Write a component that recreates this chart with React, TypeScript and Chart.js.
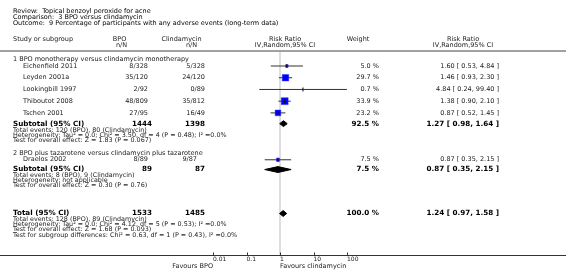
import React, { useEffect, useRef } from 'react';
import { Chart, registerables } from 'chart.js';

Chart.register(...registerables);

// ---------------- DATA ----------------
const titleLines = [
  'Review:  Topical benzoyl peroxide for acne',
  'Comparison:  3 BPO versus clindamycin',
  'Outcome:  9 Percentage of participants with any adverse events (long-term data)',
];

const groupHeadings = [
  '1 BPO monotherapy versus clindamycin monotherapy',
  '2 BPO plus tazarotene versus clindamycin plus tazarotene',
];

const studyNames = ['Eichenfield 2011', 'Leyden 2001a', 'Lookingbill 1997', 'Thiboutot 2008', 'Tschen 2001', 'Draelos 2002'];
const bpoEvents = [8, 35, 2, 48, 27, 8];
const bpoTotal = [328, 120, 92, 809, 95, 89];
const clinEvents = [5, 24, 0, 35, 16, 9];
const clinTotal = [328, 120, 89, 812, 49, 87];
const studyWeight = [5.0, 29.7, 0.7, 33.9, 23.2, 7.5];
const studyRR = [1.60, 1.46, 4.84, 1.38, 0.87, 0.87];
const studyLow = [0.53, 0.93, 0.24, 0.90, 0.52, 0.35];
const studyHigh = [4.84, 2.30, 99.40, 2.10, 1.45, 2.15];

const pooledLabels = ['Subtotal (95% CI)', 'Subtotal (95% CI)', 'Total (95% CI)'];
const pooledBpoN = [1444, 89, 1533];
const pooledClinN = [1398, 87, 1485];
const pooledWeight = [92.5, 7.5, 100.0];
const pooledRR = [1.27, 0.87, 1.24];
const pooledLow = [0.98, 0.35, 0.97];
const pooledHigh = [1.64, 2.15, 1.58];

const footnotes1 = [
  'Total events: 120 (BPO), 80 (Clindamycin)',
  'Heterogeneity: Tau\u00B2 = 0.0; Chi\u00B2 = 3.50, df = 4 (P = 0.48); I\u00B2 =0.0%',
  'Test for overall effect: Z = 1.83 (P = 0.067)',
];
const footnotes2 = [
  'Total events: 8 (BPO), 9 (Clindamycin)',
  'Heterogeneity: not applicable',
  'Test for overall effect: Z = 0.30 (P = 0.76)',
];
const footnotesTotal = [
  'Total events: 128 (BPO), 89 (Clindamycin)',
  'Heterogeneity: Tau\u00B2 = 0.0; Chi\u00B2 = 4.12, df = 5 (P = 0.53); I\u00B2 =0.0%',
  'Test for overall effect: Z = 1.68 (P = 0.093)',
  'Test for subgroup differences: Chi\u00B2 = 0.63, df = 1 (P = 0.43), I\u00B2 =0.0%',
];

const xTickValues = [0.01, 0.1, 1, 10, 100];
const favoursLeft = 'Favours BPO';
const favoursRight = 'Favours clindamycin';

// ---------------- LAYOUT (y in the plot's row scale, x in px) ----------------
const TITLE_Y = [5.5, 11.5, 17.5];
const HEAD_Y = [34, 40];
const RULE_Y = 46;
const GROUP_Y = [55, 151];
const STUDY_Y = [61.5, 73.5, 85.5, 97.5, 109.5, 157.5];
const POOLED_Y = [120.5, 167.5, 212.5];
const FOOT1_Y = [127, 132.5, 138];
const FOOT2_Y = [173.5, 178.8, 184.1];
const FOOTT_Y = [218.5, 223.8, 229.1, 234.4];
const AXIS_Y = 255;
const FAVOURS_Y = 266.5;
const DIAMOND_HALF = 3;
const TICK_UP = 3;

const X_LEFT = 13;
const X_STUDY = 23;
const X_BPO = 148;
const X_BPO_BOLD = 152;
const X_CLIN = 205;
const X_WEIGHT = 379;
const X_EFFECT = 499;

const FONT = '"DejaVu Sans", sans-serif';
const F_TEXT = `6.5px ${FONT}`;
const F_FOOT = `6.4px ${FONT}`;
const F_BOLD = `bold 7.2px ${FONT}`;
const TEXT_COLOR = '#222';

const fmtCI = (e: number, l: number, h: number) => `${e.toFixed(2)} [ ${l.toFixed(2)}, ${h.toFixed(2)} ]`;

const textPlugin = {
  id: 'forestText',
  beforeDatasetsDraw(chart: any) {
    const { ctx } = chart;
    const ys = chart.scales.y;
    const xs = chart.scales.x;
    const Y = (v: number) => ys.getPixelForValue(v);
    ctx.save();
    // header rule
    ctx.strokeStyle = '#a0a0a0';
    ctx.lineWidth = 2;
    ctx.beginPath();
    ctx.moveTo(0, Y(RULE_Y));
    ctx.lineTo(chart.width, Y(RULE_Y));
    ctx.stroke();
    // line of no effect
    const x1 = xs.getPixelForValue(1);
    ctx.strokeStyle = '#dedede';
    ctx.lineWidth = 2;
    ctx.beginPath();
    ctx.moveTo(x1, Y(RULE_Y) + 1);
    ctx.lineTo(x1, Y(AXIS_Y));
    ctx.stroke();
    ctx.restore();
  },
  afterDraw(chart: any) {
    const { ctx } = chart;
    const ys = chart.scales.y;
    const xs = chart.scales.x;
    const Y = (v: number) => ys.getPixelForValue(v);
    ctx.save();
    ctx.textBaseline = 'middle';
    const t = (s: string, x: number, y: number, font: string, align: CanvasTextAlign = 'left', color = TEXT_COLOR) => {
      ctx.font = font;
      ctx.textAlign = align;
      ctx.fillStyle = color;
      ctx.fillText(s, x, Y(y));
    };
    titleLines.forEach((s, i) => t(s, X_LEFT, TITLE_Y[i], F_TEXT, 'left', '#000'));
    // header
    t('Study or subgroup', X_LEFT, HEAD_Y[0], F_TEXT);
    t('BPO', 119.5, HEAD_Y[0], F_TEXT, 'center');
    t('n/N', 121.5, HEAD_Y[1], F_TEXT, 'center');
    t('Clindamycin', 181.5, HEAD_Y[0], F_TEXT, 'center');
    t('n/N', 191.5, HEAD_Y[1], F_TEXT, 'center');
    t('Risk Ratio', 285, HEAD_Y[0], F_TEXT, 'center');
    t('IV,Random,95% CI', 285, HEAD_Y[1], F_TEXT, 'center');
    t('Weight', 358, HEAD_Y[0], F_TEXT, 'center');
    t('Risk Ratio', 463, HEAD_Y[0], F_TEXT, 'center');
    t('IV,Random,95% CI', 463, HEAD_Y[1], F_TEXT, 'center');
    // groups
    groupHeadings.forEach((s, i) => t(s, X_LEFT, GROUP_Y[i], F_TEXT));
    // studies
    studyNames.forEach((s, i) => {
      const y = STUDY_Y[i];
      t(s, X_STUDY, y, F_TEXT);
      t(`${bpoEvents[i]}/${bpoTotal[i]}`, X_BPO, y, F_TEXT, 'right');
      t(`${clinEvents[i]}/${clinTotal[i]}`, i === 5 ? 197 : X_CLIN, y, F_TEXT, 'right');
      t(`${studyWeight[i].toFixed(1)} %`, X_WEIGHT, y, F_TEXT, 'right');
      t(fmtCI(studyRR[i], studyLow[i], studyHigh[i]), X_EFFECT, y, F_TEXT, 'right');
    });
    // pooled
    pooledLabels.forEach((s, i) => {
      const y = POOLED_Y[i];
      t(s, X_LEFT, y, F_BOLD, 'left', '#000');
      t(String(pooledBpoN[i]), X_BPO_BOLD, y, F_BOLD, 'right', '#000');
      t(String(pooledClinN[i]), X_CLIN, y, F_BOLD, 'right', '#000');
      t(`${pooledWeight[i].toFixed(1)} %`, X_WEIGHT, y, F_BOLD, 'right', '#000');
      t(fmtCI(pooledRR[i], pooledLow[i], pooledHigh[i]), X_EFFECT, y, F_BOLD, 'right', '#000');
    });
    footnotes1.forEach((s, i) => t(s, X_LEFT, FOOT1_Y[i], F_FOOT));
    footnotes2.forEach((s, i) => t(s, X_LEFT, FOOT2_Y[i], F_FOOT));
    footnotesTotal.forEach((s, i) => t(s, X_LEFT, FOOTT_Y[i], F_FOOT));
    // axis line full width
    const ay = Math.round(Y(AXIS_Y)) + 0.5;
    ctx.strokeStyle = '#333';
    ctx.lineWidth = 1;
    ctx.beginPath();
    ctx.moveTo(0, ay);
    ctx.lineTo(chart.width, ay);
    // tick marks pointing up, at the scale's own ticks
    xs.ticks.forEach((tk: any) => {
      const x = Math.round(xs.getPixelForValue(tk.value)) + 0.5;
      ctx.moveTo(x, ay - TICK_UP);
      ctx.lineTo(x, ay);
    });
    ctx.stroke();
    // favours labels
    t(favoursLeft, xs.getPixelForValue(0.01), FAVOURS_Y, F_TEXT, 'right');
    t(favoursRight, xs.getPixelForValue(1), FAVOURS_Y, F_TEXT, 'left');
    ctx.restore();
  },
};

export default function App() {
  const ref = useRef<HTMLCanvasElement>(null);
  useEffect(() => {
    if (!ref.current) return;
    const ciSets = studyNames.map((_, i) => ({
      type: 'line' as const,
      data: [
        { x: studyLow[i], y: STUDY_Y[i] },
        { x: studyHigh[i], y: STUDY_Y[i] },
      ],
      borderColor: '#333',
      borderWidth: 1,
      pointRadius: 0,
      fill: false,
      order: 3,
    }));
    const diamondSets = pooledRR.map((est, i) => ({
      type: 'line' as const,
      data: [
        { x: pooledLow[i], y: POOLED_Y[i] },
        { x: est, y: POOLED_Y[i] - DIAMOND_HALF },
        { x: pooledHigh[i], y: POOLED_Y[i] },
        { x: est, y: POOLED_Y[i] + DIAMOND_HALF },
        { x: pooledLow[i], y: POOLED_Y[i] },
      ],
      borderColor: '#000',
      backgroundColor: '#000',
      borderWidth: 1,
      pointRadius: 0,
      tension: 0,
      fill: 'shape',
      order: 2,
    }));
    const squares = {
      type: 'scatter' as const,
      data: studyNames.map((_, i) => ({ x: studyRR[i], y: STUDY_Y[i] })),
      pointStyle: 'rect',
      pointRadius: studyWeight.map((w) => 0.85 * Math.sqrt(w)),
      backgroundColor: '#0000ff',
      borderColor: 'rgba(60,60,255,0.45)',
      borderWidth: 1,
      order: 1,
    };
    const ticks = {
      type: 'scatter' as const,
      data: studyNames.map((_, i) => ({ x: studyRR[i], y: STUDY_Y[i] })),
      pointStyle: 'line',
      rotation: 90,
      pointRadius: 2,
      borderColor: '#111',
      borderWidth: 1,
      order: 0,
    };
    const chart = new Chart(ref.current, {
      type: 'scatter',
      data: { datasets: [...ciSets, ...diamondSets, squares, ticks] as any },
      options: {
        animation: false,
        responsive: false,
        devicePixelRatio: 1,
        layout: { padding: { left: 213, right: 219, top: 0, bottom: 7.8 } },
        plugins: { legend: { display: false }, tooltip: { enabled: false } },
        scales: {
          x: {
            type: 'logarithmic',
            min: 0.01,
            max: 100,
            afterBuildTicks: (scale: any) => {
              scale.ticks = xTickValues.map((v) => ({ value: v }));
            },
            ticks: {
              callback: (v: any) => String(v),
              font: { family: '"DejaVu Sans", sans-serif', size: 6 },
              color: '#222',
              align: 'start',
              padding: 1,
              autoSkip: false,
              maxRotation: 0,
            },
            grid: { drawOnChartArea: false, drawTicks: false, color: '#333' },
            border: { display: false },
          },
          y: { type: 'linear', min: 0, max: 255, reverse: true, display: false },
        },
      },
      plugins: [textPlugin],
    } as any);
    return () => chart.destroy();
  }, []);
  return (
    <div style={{ position: 'fixed', left: 0, top: 0, width: 566, height: 272, background: '#fff' }}>
      <canvas ref={ref} width={566} height={272} style={{ display: 'block', width: 566, height: 272 }} />
    </div>
  );
}
